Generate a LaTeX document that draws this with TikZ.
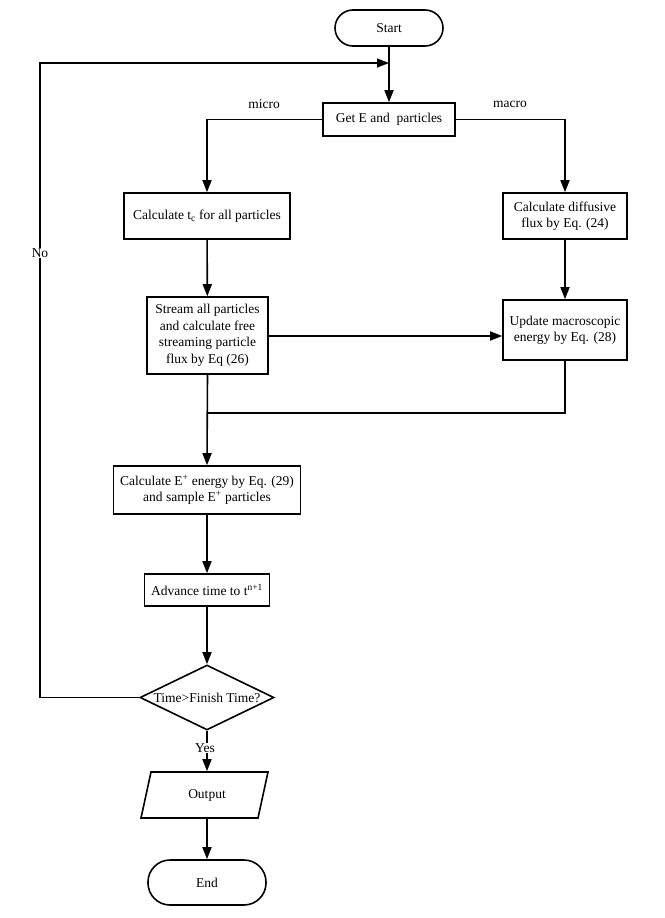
\documentclass[tikz,border=0pt]{standalone}
\usepackage{fontspec}
\setmainfont{Liberation Serif}
\usetikzlibrary{arrows.meta,shapes.geometric}
\begin{document}
\begin{tikzpicture}[x=1pt,y=-1pt,
  font=\fontsize{13.5}{16}\selectfont,
  line width=1.6pt,
  box/.style={draw, rectangle, align=center, inner sep=2pt},
  term/.style={draw, rectangle, rounded corners=18pt, align=center},
  arr/.style={-{Triangle[length=12pt,width=9pt]}},
  lbl/.style={fill=white, inner sep=1pt}]
\useasboundingbox (0,0) rectangle (664,918);
% nodes
\node[term, minimum width=108pt, minimum height=36pt] (start) at (389,28) {Start};
\node[box, minimum width=132pt, minimum height=33pt] (get) at (389,119.5) {Get E and\ \ particles};
\node[box, minimum width=166pt, minimum height=46pt] (tc) at (207,216) {Calculate t\textsubscript{c} for all particles};
\node[box, minimum width=124pt, minimum height=46pt] (diff) at (565,216) {Calculate diffusive\\flux by Eq. (24)};
\node[box, minimum width=121pt, minimum height=77pt, font=\fontsize{13.5}{16.5}\selectfont] (stream) at (207.5,335.5) {Stream all particles\\and calculate free\\streaming particle\\flux by Eq (26)};
\node[box, minimum width=124pt, minimum height=60pt] (upd) at (565,330) {Update macroscopic\\energy by Eq. (28)};
\node[box, minimum width=187pt, minimum height=48pt] (eplus) at (207,490) {Calculate E\textsuperscript{+} energy by Eq. (29)\\and sample E\textsuperscript{+} particles};
\node[box, minimum width=125pt, minimum height=32pt] (adv) at (207,590) {Advance time to t\textsuperscript{n+1}};
\node[draw, diamond, minimum width=134pt, minimum height=65pt, inner sep=0pt] (dec) at (207,697.5) {};
\node[inner sep=0pt] (dectext) at (dec.center) {Time>Finish Time?};
\coordinate (o1) at (151,772);
\coordinate (o2) at (268,772);
\coordinate (o3) at (258,818);
\coordinate (o4) at (141,818);
\draw (o1) -- (o2) -- (o3) -- (o4) -- cycle;
\node[minimum width=110pt, minimum height=46pt] (out) at (207,795) {Output};
\node[term, minimum width=118pt, minimum height=45pt, rounded corners=22pt] (end) at (207,882.5) {End};
% loop coordinates
\coordinate (lb) at (40,697.5);
\coordinate (lt) at (40,63);
\coordinate (lm) at (389,63);
\coordinate (mrg) at (207.5,413);
\coordinate (ur) at (565,413);
% connectors
\draw[arr] (start) -- (get);
\draw[arr] (dec.west) -- (lb) -- (lt) -- (lm);
\node[lbl] at (40,253) {No};
\draw[arr] (get.west) -| (tc.north);
\node at (264,104) {micro};
\draw[arr] (get.east) -| (diff.north);
\node at (510,104) {macro};
\draw[arr] (tc) -- (stream);
\draw[arr] (diff) -- (upd);
\draw[arr] (stream.east |- 0,336) -- (upd.west |- 0,336);
\draw (upd.south) -- (ur) -- (mrg);
\draw[arr] (stream.south) -- (eplus.north);
\draw[arr] (eplus) -- (adv);
\draw[arr] (adv) -- (dec.north);
\draw[arr] (dec.south) -- (out.north);
\node[lbl] at (205,748) {Yes};
\draw[arr] (out.south) -- (end.north);
\end{tikzpicture}
\end{document}
